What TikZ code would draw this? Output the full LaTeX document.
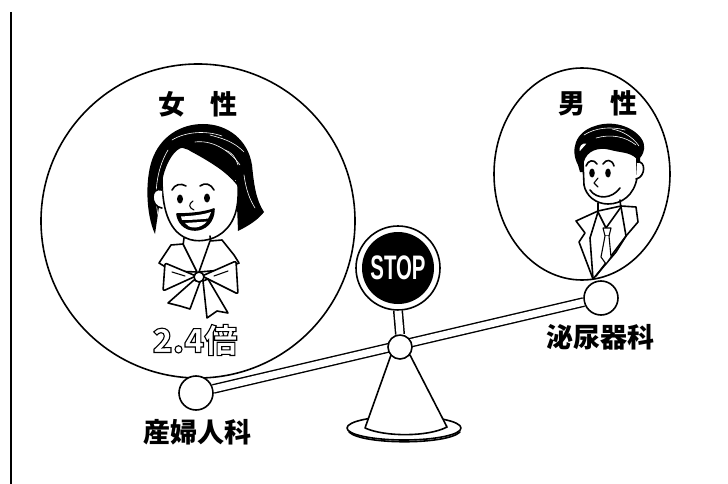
\documentclass[tikz,border=0pt]{standalone}
\usepackage{fontspec}
\usepackage{graphicx}
\usetikzlibrary{shapes.geometric}
\newfontfamily\jpfont{Noto Sans CJK JP}
\newfontfamily\signfont{Liberation Sans}
% hollow lettering: white fill with a black stroked outline
\newcommand{\hollowtext}[1]{\textcolor{white}{\special{pdf:literal direct 2 Tr 1.1 w 0 0 0 RG}#1\special{pdf:literal direct 0 Tr}}}

\begin{document}
\begin{tikzpicture}[x=1pt, y=-1pt,
  outline/.style={line width=1.6pt, line join=round, line cap=round},
  fineline/.style={line width=1.1pt, line join=round, line cap=round},
  texture/.style={white, line width=0.6pt, line cap=round},
  joint/.style={circle, draw, line width=1.6pt, fill=white, minimum size=34pt, inner sep=0pt},
  caption/.style={font=\jpfont\bfseries\fontsize{27}{27}\selectfont, inner sep=0pt},
  beam/.style={line width=1.4pt, double=white, double distance=7pt},
]
\useasboundingbox (0,0) rectangle (728,484);

% margin rule
\coordinate (ruletop) at (11,12);
\coordinate (rulebot) at (11,484);
\draw[line width=2pt] (ruletop) -- (rulebot);

% the two rings
\node[circle, draw, outline, minimum size=314pt, inner sep=0pt] (womanring) at (198,221) {};
\node[ellipse, draw, outline, minimum width=176pt, minimum height=212pt, inner sep=0pt] (manring) at (582,174) {};

% ---------------- woman ----------------
% hair mass
\fill (155,234) .. controls (146,215) and (145,180) .. (152,160)
  .. controls (160,137) and (180,124) .. (203,124)
  .. controls (228,124) and (248,140) .. (252,165)
  .. controls (254,185) and (256,200) .. (264,212)
  .. controls (258,220) and (248,226) .. (238,231)
  -- (236,180) -- (163,180) -- cycle;
\draw[texture] (158,215) .. controls (154,195) and (156,170) .. (168,150);
\draw[texture] (172,140) .. controls (185,132) and (205,130) .. (222,136);
\draw[texture] (195,142) .. controls (210,140) and (228,148) .. (240,165);
\draw[texture] (244,175) .. controls (246,190) and (250,200) .. (255,208);
\draw[texture] (225,150) .. controls (232,152) and (236,158) .. (238,165);
\draw[texture] (210,135) .. controls (220,138) and (232,140) .. (244,152);
% face
\filldraw[fill=white, outline] (162,178) .. controls (166,160) and (175,148) .. (182,147)
  .. controls (195,150) and (222,165) .. (238,185)
  .. controls (239,205) and (236,222) .. (222,233)
  .. controls (212,241) and (196,243) .. (186,238)
  .. controls (172,232) and (162,215) .. (162,178) -- cycle;
% bang curl
\draw[outline] (190,150) .. controls (205,158) and (222,168) .. (232,178);
% ear
\filldraw[fill=white, outline] (162,190) .. controls (150,186) and (150,207) .. (162,208);
% brows, eyes, nose
\draw[outline] (172,190) .. controls (175,184) and (181,183) .. (186,186);
\draw[outline] (200,186) .. controls (205,182) and (211,184) .. (214,190);
\fill (180,199) ellipse [x radius=3pt, y radius=4.5pt];
\fill (207,198) ellipse [x radius=3pt, y radius=4.5pt];
\draw[fineline] (193,201) .. controls (188,204) and (189,208) .. (194,210);
% open smile
\filldraw[outline] (177,214) .. controls (188,214) and (203,213) .. (214,209)
  .. controls (214,222) and (205,230) .. (195,230)
  .. controls (184,230) and (178,222) .. (177,214) -- cycle;
\fill[white] (181,216.5) .. controls (190,216) and (203,215) .. (211,212)
  .. controls (210,215) and (209,217) .. (208,218.5)
  .. controls (200,219.5) and (190,220) .. (182,220) -- cycle;
\fill[white] (185,223) .. controls (192,222.5) and (202,222) .. (207,221.5)
  .. controls (204,225) and (199,227.5) .. (195,227.5)
  .. controls (190,227.5) and (187,226) .. (185,223) -- cycle;
% neck
\draw[outline] (184,238) -- (183,246);
\draw[outline] (210,236) -- (211,243);
% collar
\filldraw[fill=white, outline] (183,244) -- (171,245) -- (159,263) -- (172,271) -- (197,272) -- cycle;
\filldraw[fill=white, outline] (210,241) -- (222,240) -- (234,255) -- (239,263) -- (222,270) -- (199,272) -- cycle;
% bow
\filldraw[fill=white, outline, rounded corners=2pt] (196,276) -- (165,263) -- (163,291) -- cycle;
\filldraw[fill=white, outline, rounded corners=2pt] (202,276) -- (236,261) -- (238,294) -- cycle;
\draw[fineline] (172,272) -- (185,276);
\draw[fineline] (228,271) -- (214,276);
\filldraw[fill=white, outline] (194,280) -- (168,303) -- (180,306) -- (190,309) -- (200,282) -- cycle;
\filldraw[fill=white, outline] (203,281) -- (207,318) -- (217,311) -- (228,313) -- (208,279) -- cycle;
\filldraw[fill=white, outline] (199,277) circle [radius=5pt];

% ---------------- man ----------------
\fill (578,165) .. controls (570,150) and (575,132) .. (595,126)
  .. controls (612,120) and (632,126) .. (641,138)
  .. controls (646,145) and (645,152) .. (640,158)
  -- (640,172) -- (580,172) -- cycle;
\draw[texture] (584,135) .. controls (595,128) and (610,126) .. (625,130);
\draw[texture] (596,138) .. controls (610,134) and (625,136) .. (636,145);
\draw[texture] (612,129) .. controls (622,131) and (632,136) .. (639,146);
\filldraw[fill=white, outline] (579,152) .. controls (577,146) and (582,141) .. (587,143);
\filldraw[fill=white, outline] (583,162) .. controls (586,150) and (598,146) .. (610,149)
  .. controls (620,152) and (630,151) .. (637,158) -- (637,178)
  .. controls (634,195) and (622,204) .. (608,204)
  .. controls (596,204) and (586,196) .. (584,185) -- cycle;
\filldraw[fill=white, outline] (637,162) .. controls (646,160) and (646,177) .. (636,179);
\draw[outline] (586,166) .. controls (588,160) and (594,159) .. (597,164);
\draw[outline] (603,164) .. controls (606,159) and (612,159) .. (614,166);
\fill (592,173) ellipse [x radius=2.8pt, y radius=4.5pt];
\fill (608,173) ellipse [x radius=2.8pt, y radius=4.5pt];
\draw[fineline] (598,178) -- (594,183) -- (598,187);
\draw[outline] (590,190) .. controls (597,200) and (612,199) .. (620,188);
\draw[outline] (598,203) -- (598,212);
\draw[outline] (620,200) -- (621,209);
% jacket
\filldraw[fill=white, outline] (598,211) -- (576,221) -- (585,233) -- (579,242) -- (593,279)
  -- (616,252) -- (626,236) -- (638,222) -- (636,207) -- (621,206) -- cycle;
\draw[outline] (598,212) -- (590,238) -- (593,279);
\draw[outline] (621,207) -- (626,236);
\draw[outline] (626,236) -- (596,276);
\draw[outline] (598,212) -- (606,228) -- (621,207);
\filldraw[fill=white, fineline] (603,228) -- (611,228) -- (609,236) -- (605,236) -- cycle;
\filldraw[fill=white, fineline] (605,236) -- (601,257) -- (606,264) -- (611,257) -- (609,236);

% ---------------- captions ----------------
\node[caption] (womanlbl) at (198,104) {女\hspace{0.95em}性};
\node[caption] (manlbl) at (598,103) {男\hspace{0.95em}性};
\node[caption] (leftdept) at (197,432) {産婦人科};
\node[caption] (rightdept) at (600,337) {泌尿器科};
\node[inner sep=0pt, font=\jpfont\bfseries\fontsize{33}{33}\selectfont] (ratio) at (195,340)
  {\hollowtext{2.4倍}};

% ---------------- seesaw ----------------
% stand: dish and cone
\draw[outline] (404,428) ellipse [x radius=57pt, y radius=12pt];
\draw[outline] (349,432) .. controls (362,445) and (447,445) .. (460,432);
\filldraw[fill=white, outline] (391,355) -- (365,428) .. controls (385,437) and (428,437) .. (447,427) -- (410,355) -- cycle;

% ends of the beam
\node[joint] (jl) at (196,393) {};
\node[joint] (jr) at (601,298) {};
\draw[beam] (jl) -- (jr);
\node[circle, draw, line width=1.6pt, fill=white, minimum size=24pt, inner sep=0pt] (pivot) at (400,347) {};

% stop sign
\node[circle, draw, outline, fill=white, minimum size=84pt, inner sep=0pt] (signrim) at (398,268) {};
\node[circle, fill=black, minimum size=72pt, inner sep=0pt, text=white,
      font=\signfont\bfseries\fontsize{34}{34}\selectfont] (sign) at (398,268) {\scalebox{0.6}[1]{STOP}};
\draw[line width=1.5pt, double=white, double distance=7pt] (signrim.south) -- (pivot.north);
\end{tikzpicture}
\end{document}
